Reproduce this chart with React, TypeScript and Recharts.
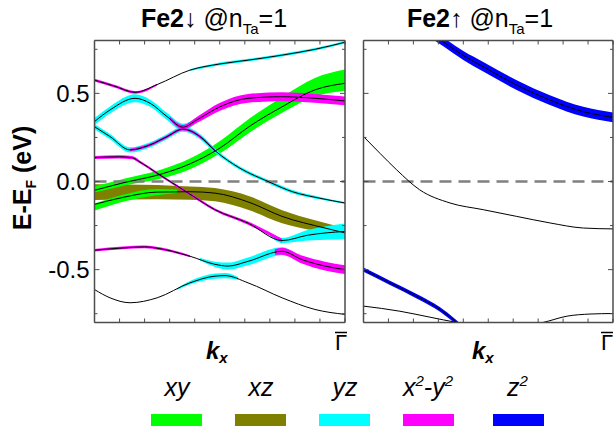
import React from "react"
import { Area, ComposedChart, Line, ReferenceLine, XAxis, YAxis } from "recharts"

const FONT = "'Liberation Sans', Arial, sans-serif"
const FRAME = "#4d4d4d"

const kTicks = [0, 0.1, 0.2, 0.3, 0.4, 0.5, 0.6, 0.7, 0.8, 0.9, 1]
const eTicks = [-0.75, -0.5, -0.25, 0, 0.25, 0.5, 0.75]
const eMajor = [-0.5, 0, 0.5]

const orbitals = ["xy", "xz", "yz", "x2-y2", "z2"]
const orbitalColors = ["#00ff00", "#808000", "#00ffff", "#ff00ff", "#0000ff"]

// spin down (Fe2↓) bands, [k, E]
const dn1 = [[0, 0.575], [0.082, 0.54], [0.162, 0.506], [0.25, 0.55], [0.381, 0.632], [0.501, 0.667], [0.621, 0.69], [0.749, 0.717], [0.88, 0.75], [1, 0.79]]
const dn2 = [[0, 0.34], [0.062, 0.406], [0.162, 0.472], [0.222, 0.444], [0.29, 0.368], [0.353, 0.308], [0.408, 0.349], [0.501, 0.424], [0.613, 0.472], [0.749, 0.481], [0.88, 0.472], [1, 0.457]]
const dn3 = [[0, 0.311], [0.062, 0.255], [0.142, 0.179], [0.222, 0.208], [0.29, 0.255], [0.353, 0.297], [0.421, 0.255], [0.481, 0.175], [0.581, 0.075], [0.693, 0], [0.788, -0.057], [0.9, -0.095], [1, -0.122]]
const dn4 = [[0, 0.136], [0.1, 0.14], [0.15, 0.135], [0.182, 0.11], [0.25, 0.047], [0.381, -0.072], [0.481, -0.16], [0.613, -0.236], [0.749, -0.335], [0.85, -0.305], [1, -0.283]]
const dn5 = [[0, -0.05], [0.122, -0.005], [0.261, 0.04], [0.381, 0.1], [0.501, 0.19], [0.621, 0.315], [0.749, 0.424], [0.88, 0.52], [1, 0.557]]
const dn6 = [[0, -0.13], [0.114, -0.09], [0.25, -0.06], [0.381, -0.058], [0.481, -0.066], [0.621, -0.12], [0.749, -0.198], [0.92, -0.264], [1, -0.292]]
const dn7 = [[0, -0.39], [0.114, -0.377], [0.2, -0.371], [0.261, -0.381], [0.381, -0.424], [0.481, -0.47], [0.533, -0.48], [0.613, -0.453], [0.749, -0.396], [0.828, -0.443], [0.92, -0.48], [1, -0.5]]
const dn8 = [[0, -0.613], [0.062, -0.66], [0.142, -0.688], [0.25, -0.66], [0.381, -0.575], [0.481, -0.537], [0.521, -0.534], [0.613, -0.575], [0.749, -0.66], [0.88, -0.726], [1, -0.754]]

// spin down orbital weights, [k, E, width in eV]
const dnXz = [[0, -0.06, 0.09], [0.25, -0.06, 0.08], [0.381, -0.066, 0.075], [0.481, -0.075, 0.075], [0.621, -0.125, 0.08], [0.749, -0.2, 0.075], [0.88, -0.25, 0.06], [1, -0.287, 0.045]]
const dnXyLow = [[0, -0.145, 0.04], [0.114, -0.095, 0.04], [0.25, -0.06, 0.035], [0.33, -0.055, 0.02]]
const dnXy = [[0, -0.045, 0.035], [0.122, -0.003, 0.04], [0.261, 0.04, 0.05], [0.381, 0.1, 0.06], [0.501, 0.195, 0.07], [0.621, 0.32, 0.08], [0.749, 0.435, 0.09], [0.88, 0.535, 0.105], [1, 0.575, 0.12]]
const dnYz1 = [[0.381, 0.632, 0.01], [0.501, 0.667, 0.015], [0.621, 0.69, 0.015], [0.749, 0.717, 0.015], [0.88, 0.75, 0.015], [1, 0.79, 0.015]]
const dnYz2 = [[0, 0.34, 0.04], [0.062, 0.406, 0.04], [0.162, 0.472, 0.045], [0.222, 0.444, 0.04], [0.29, 0.368, 0.04], [0.353, 0.308, 0.04], [0.408, 0.349, 0.025]]
const dnYz3 = [[0, 0.311, 0.03], [0.062, 0.255, 0.03], [0.142, 0.179, 0.03], [0.222, 0.208, 0.03], [0.29, 0.255, 0.03], [0.353, 0.297, 0.03], [0.421, 0.255, 0.03], [0.481, 0.175, 0.025], [0.581, 0.075, 0.02], [0.693, 0, 0.02], [0.788, -0.057, 0.02], [0.9, -0.095, 0.015], [1, -0.122, 0.012]]
const dnYz4 = [[0.7, -0.3, 0.015], [0.749, -0.335, 0.03], [0.85, -0.305, 0.06], [1, -0.283, 0.09]]
const dnYz7 = [[0.42, -0.44, 0.015], [0.481, -0.47, 0.03], [0.533, -0.48, 0.04], [0.613, -0.453, 0.045], [0.749, -0.396, 0.045], [0.8, -0.42, 0.02]]
const dnYz8 = [[0.33, -0.61, 0.01], [0.381, -0.575, 0.02], [0.481, -0.537, 0.03], [0.521, -0.534, 0.03], [0.573, -0.55, 0.015]]
const dnX2y2_1 = [[0, 0.575, 0.015], [0.082, 0.54, 0.015], [0.162, 0.506, 0.015], [0.25, 0.55, 0.01]]
const dnX2y2_2 = [[0.3, 0.36, 0.02], [0.353, 0.308, 0.025], [0.408, 0.349, 0.035], [0.501, 0.424, 0.045], [0.613, 0.472, 0.05], [0.749, 0.481, 0.05], [0.88, 0.472, 0.05], [1, 0.457, 0.05]]
const dnX2y2_3 = [[0.142, 0.179, 0.015], [0.222, 0.208, 0.015], [0.29, 0.255, 0.015], [0.353, 0.297, 0.015], [0.421, 0.255, 0.015], [0.481, 0.175, 0.015]]
const dnX2y2_4 = [[0, 0.136, 0.018], [0.1, 0.14, 0.018], [0.15, 0.135, 0.018], [0.182, 0.11, 0.015], [0.25, 0.047, 0.015], [0.381, -0.072, 0.015], [0.481, -0.16, 0.015], [0.613, -0.236, 0.018], [0.749, -0.335, 0.02]]
const dnX2y2_7a = [[0, -0.39, 0.015], [0.114, -0.377, 0.015], [0.2, -0.371, 0.015], [0.261, -0.381, 0.015], [0.381, -0.424, 0.012]]
const dnX2y2_7b = [[0.72, -0.4, 0.03], [0.749, -0.396, 0.04], [0.828, -0.443, 0.045], [0.92, -0.48, 0.05], [1, -0.5, 0.05]]

// spin up (Fe2↑) bands
const up1 = [[0.15, 0.97], [0.24, 0.87], [0.32, 0.792], [0.4, 0.715], [0.48, 0.651], [0.614, 0.547], [0.747, 0.462], [0.881, 0.396], [1, 0.364]]
const up2 = [[0, 0.255], [0.066, 0.16], [0.133, 0.066], [0.225, -0.047], [0.347, -0.122], [0.48, -0.16], [0.614, -0.198], [0.747, -0.235], [0.881, -0.264], [1, -0.269]]
const up3 = [[0, -0.5], [0.106, -0.575], [0.213, -0.651], [0.307, -0.726], [0.367, -0.792], [0.42, -0.86]]
const up4 = [[0, -0.707], [0.146, -0.736], [0.267, -0.77], [0.375, -0.8], [0.55, -0.835], [0.719, -0.8], [0.816, -0.764], [0.908, -0.752], [1, -0.749]]
const upZ2a = [[0.15, 0.97, 0.05], [0.24, 0.87, 0.05], [0.32, 0.792, 0.05], [0.4, 0.715, 0.05], [0.48, 0.651, 0.055], [0.614, 0.547, 0.055], [0.747, 0.462, 0.055], [0.881, 0.396, 0.055], [1, 0.364, 0.055]]
const upZ2b = [[0, -0.5, 0.025], [0.106, -0.575, 0.025], [0.213, -0.651, 0.025], [0.307, -0.726, 0.025], [0.367, -0.792, 0.025], [0.42, -0.86, 0.025]]

const [cXy, cXz, cYz, cX2, cZ2] = orbitalColors

const dnFats = [
  { band: dnXz, color: cXz },
  { band: dnXyLow, color: cXy },
  { band: dnXy, color: cXy },
  { band: dnYz1, color: cYz },
  { band: dnYz2, color: cYz },
  { band: dnYz3, color: cYz },
  { band: dnYz4, color: cYz },
  { band: dnYz7, color: cYz },
  { band: dnYz8, color: cYz },
  { band: dnX2y2_1, color: cX2 },
  { band: dnX2y2_2, color: cX2 },
  { band: dnX2y2_3, color: cX2 },
  { band: dnX2y2_4, color: cX2 },
  { band: dnX2y2_7a, color: cX2 },
  { band: dnX2y2_7b, color: cX2 },
]
const upFats = [
  { band: upZ2a, color: cZ2 },
  { band: upZ2b, color: cZ2 },
]

const toPts = (b: number[][]) => b.map(([k, e, w]) => ({ k, e, w: w ?? 0 }))
const spread = (d: any) => [d.e - d.w / 2, d.e + d.w / 2]

function XTick({ x, y, dir }: any) {
  return <line x1={x} x2={x} y1={y} y2={y + dir * 4} stroke={FRAME} strokeWidth={1} />
}

function YTick({ x, y, payload, dir, labels }: any) {
  const major = eMajor.includes(payload.value)
  return (
    <g>
      <line x1={x} x2={x + dir * (major ? 5 : 3)} y1={y} y2={y} stroke={FRAME} strokeWidth={1} />
      {labels && major && (
        <text x={x - 5} y={y} textAnchor="end" dominantBaseline="central" fontSize={24} fontFamily={FONT} fill="#000">
          {payload.value.toFixed(1)}
        </text>
      )}
    </g>
  )
}

function Panel({ width, left, right, yWidth, labels, fats, lines }: any) {
  const axisLine = { stroke: FRAME, strokeWidth: 1.5 }
  return (
    <ComposedChart width={width} height={340} margin={{ top: 39.5, right, bottom: 16.5, left }}>
      <XAxis xAxisId="b" type="number" dataKey="k" domain={[0, 1]} ticks={kTicks} interval={0} allowDataOverflow
        height={1} tickSize={0} tickMargin={0} tickLine={false} axisLine={axisLine} tick={(p: any) => <XTick {...p} dir={-1} />} />
      <XAxis xAxisId="t" orientation="top" type="number" dataKey="k" domain={[0, 1]} ticks={kTicks} interval={0} allowDataOverflow
        height={1} tickSize={0} tickMargin={0} tickLine={false} axisLine={axisLine} tick={(p: any) => <XTick {...p} dir={1} />} />
      <YAxis yAxisId="l" type="number" domain={[-0.8, 0.8]} ticks={eTicks} interval={0} allowDataOverflow
        width={yWidth} tickSize={0} tickMargin={0} tickLine={false} axisLine={axisLine} tick={(p: any) => <YTick {...p} dir={1} labels={labels} />} />
      <YAxis yAxisId="r" orientation="right" type="number" domain={[-0.8, 0.8]} ticks={eTicks} interval={0} allowDataOverflow
        width={1} tickSize={0} tickMargin={0} tickLine={false} axisLine={axisLine} tick={(p: any) => <YTick {...p} dir={-1} />} />
      <ReferenceLine xAxisId="b" yAxisId="l" y={0} stroke="#808080" strokeWidth={2.5} strokeDasharray="12 7" />
      {fats.map((f: any, i: number) => (
        <Area key={"f" + i} xAxisId="b" yAxisId="l" data={toPts(f.band)} dataKey={spread} type="monotone"
          stroke="none" fill={f.color} fillOpacity={1} dot={false} activeDot={false} isAnimationActive={false} />
      ))}
      {lines.map((b: number[][], i: number) => (
        <Line key={"l" + i} xAxisId="b" yAxisId="l" data={toPts(b)} dataKey="e" type="monotone"
          stroke="#000" strokeWidth={1} dot={false} activeDot={false} isAnimationActive={false} />
      ))}
    </ComposedChart>
  )
}

const legendBars = [151, 235, 319, 403, 493]

function Overlay() {
  const t = { fontFamily: FONT, fill: "#000" }
  return (
    <svg width={614} height={428} style={{ position: "absolute", left: 0, top: 0, pointerEvents: "none" }}>
      <text x={214} y={27} textAnchor="middle" fontSize={25} {...t}>
        <tspan fontWeight="bold">Fe2↓</tspan><tspan> @n</tspan><tspan fontSize={15} dy={7}>Ta</tspan><tspan dy={-7}>=1</tspan>
      </text>
      <text x={480} y={27} textAnchor="middle" fontSize={25} {...t}>
        <tspan fontWeight="bold">Fe2↑</tspan><tspan> @n</tspan><tspan fontSize={15} dy={7}>Ta</tspan><tspan dy={-7}>=1</tspan>
      </text>
      <text transform="translate(31,178) rotate(-90)" textAnchor="middle" fontSize={25} fontWeight="bold" {...t}>
        E-E<tspan fontSize={14} dy={5}>F</tspan><tspan dy={-5}> (eV)</tspan>
      </text>
      {[206, 472].map((x) => (
        <text key={x} x={x} y={359} fontSize={24} fontWeight="bold" fontStyle="italic" {...t}>
          k<tspan fontSize={15} dy={4}>x</tspan>
        </text>
      ))}
      {[341, 607].map((x) => (
        <g key={x}>
          <text x={x} y={350} textAnchor="middle" fontSize={22} {...t}>Γ</text>
          <line x1={x - 6} x2={x + 6} y1={332.5} y2={332.5} stroke="#000" strokeWidth={1.5} />
        </g>
      ))}
      {orbitals.map((o, i) => {
        const x0 = legendBars[i]
        const lab = o === "x2-y2"
          ? <text x={x0} y={396} fontSize={25} fontStyle="italic" {...t}>x<tspan fontSize={15} dy={-10}>2</tspan><tspan dy={10}>-y</tspan><tspan fontSize={15} dy={-10}>2</tspan></text>
          : o === "z2"
            ? <text x={x0 + 14} y={396} fontSize={25} fontStyle="italic" {...t}>z<tspan fontSize={15} dy={-10}>2</tspan></text>
            : <text x={x0 + 26} y={396} textAnchor="middle" fontSize={25} fontStyle="italic" {...t}>{o}</text>
        return (
          <g key={o}>
            {lab}
            <rect x={x0} y={414} width={51} height={12} fill={orbitalColors[i]} />
          </g>
        )
      })}
    </svg>
  )
}

export default function App() {
  return (
    <div style={{ position: "absolute", left: 0, top: 0, width: 614, height: 428, background: "#fff" }}>
      <div style={{ position: "absolute", left: 0, top: 0 }}>
        <Panel width={350} left={0} right={4} yWidth={94.5} labels fats={dnFats} lines={[dn1, dn2, dn3, dn4, dn5, dn6, dn7, dn8]} />
      </div>
      <div style={{ position: "absolute", left: 350, top: 0 }}>
        <Panel width={264} left={12.5} right={0} yWidth={1} labels={false} fats={upFats} lines={[up1, up2, up3, up4]} />
      </div>
      <Overlay />
    </div>
  )
}
